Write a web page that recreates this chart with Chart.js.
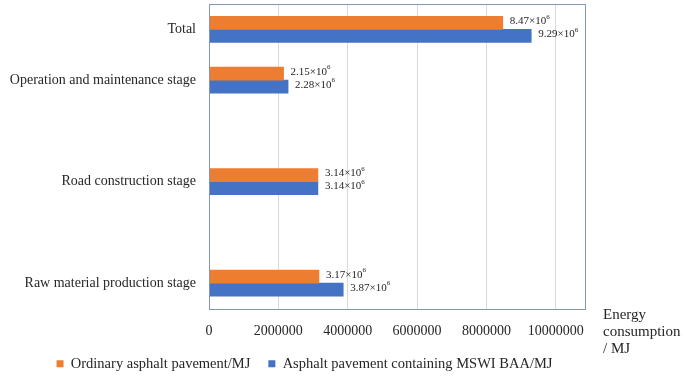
<!DOCTYPE html>
<html>
<head>
<meta charset="utf-8">
<script src="https://cdn.jsdelivr.net/npm/chart.js@4"></script>
<style>
  html, body { margin: 0; padding: 0; background: #fff; }
  #wrap { width: 685px; height: 376px; }
</style>
</head>
<body>
<div id="wrap"><canvas id="chart" width="685" height="376"></canvas></div>
<script>
// categories top to bottom (blank rows are empty gaps in the original)
const stages = ['Total', 'Operation and maintenance stage', '', 'Road construction stage', '', 'Raw material production stage'];
const ordinaryMJ = [8.47e6, 2.15e6, null, 3.14e6, null, 3.17e6];
const mswiMJ = [9.29e6, 2.28e6, null, 3.14e6, null, 3.87e6];
const xTicks = [0, 2000000, 4000000, 6000000, 8000000, 10000000];
const axisTitle = ['Energy', 'consumption', '/ MJ'];

const serif = "'Liberation Serif', 'Times New Roman', serif";
const textColor = '#262626';

// box round the plot area
const frame = {
    id: 'frame',
    afterDatasetsDraw(chart) {
        const a = chart.chartArea;
        const ctx = chart.ctx;
        ctx.save();
        ctx.strokeStyle = '#8497b0';
        ctx.lineWidth = 1;
        ctx.strokeRect(Math.round(a.left) + 0.5, Math.round(a.top) + 0.5, Math.round(a.right - a.left), Math.round(a.bottom - a.top));
        ctx.restore();
    }
};

// value labels like 8.47×10^6 and the x axis title on the right
const labels = {
    id: 'labels',
    afterDraw(chart) {
        const ctx = chart.ctx;
        ctx.save();
        ctx.fillStyle = textColor;
        ctx.textBaseline = 'middle';
        ctx.textAlign = 'left';
        chart.data.datasets.forEach((ds, i) => {
            const meta = chart.getDatasetMeta(i);
            meta.data.forEach((bar, j) => {
                const v = ds.data[j];
                if (v == null) return;
                const main = (v / 1e6).toFixed(2) + '×10';
                const x = bar.x + 7;
                const y = bar.y - 2;
                ctx.font = '11px ' + serif;
                ctx.fillText(main, x, y);
                const w = ctx.measureText(main).width;
                ctx.font = '7px ' + serif;
                ctx.fillText('6', x + w, y - 4);
            });
        });
        ctx.font = '15px ' + serif;
        const x0 = chart.chartArea.right + 18;
        axisTitle.forEach((t, k) => ctx.fillText(t, x0, 315 + k * 17));
        ctx.restore();
    }
};

function noPad(scale) {
    scale.paddingTop = 0;
    scale.paddingBottom = 0;
    scale.paddingLeft = 0;
    scale.paddingRight = 0;
}

new Chart(document.getElementById('chart'), {
    type: 'bar',
    data: {
        labels: stages,
        datasets: [{
            label: 'Ordinary asphalt pavement/MJ',
            data: ordinaryMJ,
            backgroundColor: '#ed7d31',
            barThickness: 13
        }, {
            label: 'Asphalt pavement containing MSWI BAA/MJ',
            data: mswiMJ,
            backgroundColor: '#4472c4',
            barThickness: 13
        }]
    },
    options: {
        indexAxis: 'y',
        responsive: false,
        animation: false,
        layout: { padding: { left: 0, right: 76, top: 4, bottom: -5 } },
        plugins: {
            legend: {
                position: 'bottom',
                labels: {
                    boxWidth: 7,
                    boxHeight: 7,
                    padding: 18,
                    color: textColor,
                    font: { family: serif, size: 14.5 }
                }
            },
            tooltip: { enabled: false }
        },
        scales: {
            x: {
                min: 0,
                max: 10840000,
                afterBuildTicks(scale) {
                    scale.ticks = xTicks.map(v => ({ value: v }));
                },
                afterFit(scale) { scale.height = 30; noPad(scale); },
                grid: { color: '#d9d9d9', drawTicks: false },
                border: { display: false },
                ticks: {
                    padding: 14,
                    color: textColor,
                    font: { family: serif, size: 14 },
                    callback: v => String(v)
                }
            },
            y: {
                afterFit(scale) { scale.width = 209; noPad(scale); },
                grid: { display: false, drawTicks: false },
                border: { display: false },
                ticks: {
                    padding: 13,
                    autoSkip: false,
                    color: textColor,
                    font: { family: serif, size: 14 }
                }
            },
            // empty strip on the right so the legend sits where it does in the original
            yRight: {
                type: 'category',
                position: 'right',
                afterFit(scale) { scale.width = 24; noPad(scale); },
                grid: { display: false, drawTicks: false },
                border: { display: false },
                ticks: { display: false }
            }
        }
    },
    plugins: [frame, labels]
});
</script>
</body>
</html>
